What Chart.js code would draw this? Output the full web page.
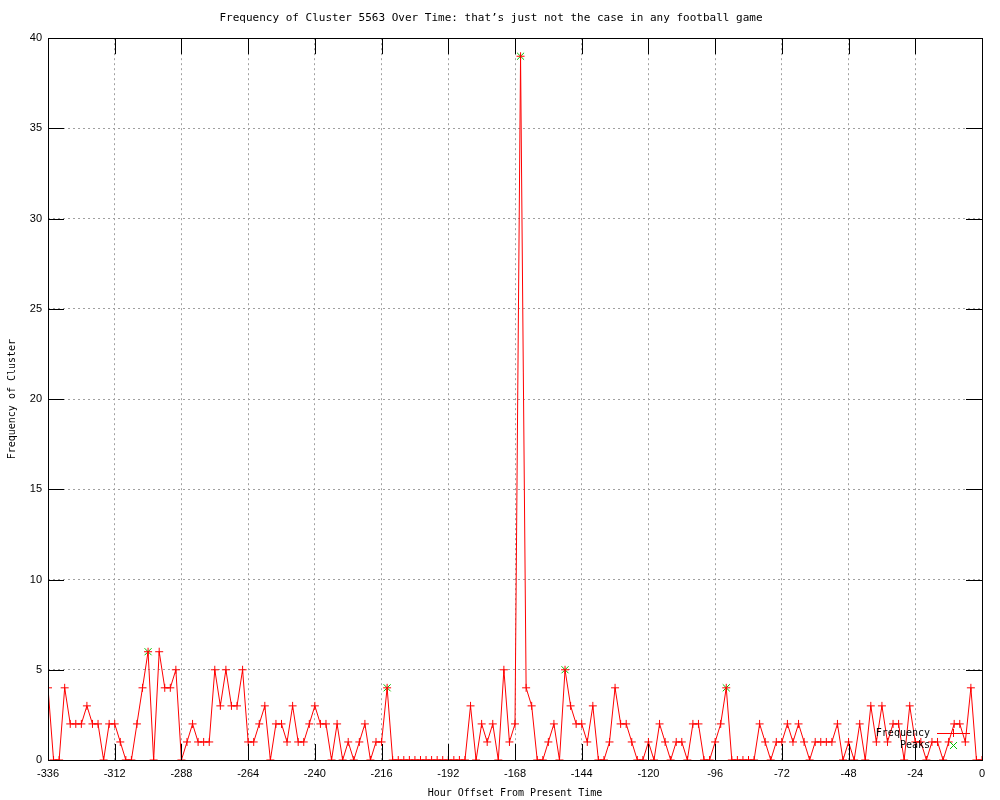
<!DOCTYPE html>
<html>

<head>
  <meta charset="utf-8">
  <title>Frequency of Cluster 5563</title>
  <style>
    body {
      margin: 0;
      background: #fff;
    }
  </style>
</head>

<body>
  <canvas id="chart" width="1000" height="800"></canvas>

  <script src="https://cdn.jsdelivr.net/npm/chart.js"></script>

  <script>
    // hours before now, one sample every 2 hours
    const hours = Array.from({ length: 169 }, (_, i) => -336 + i * 2);

    const frequency = [
      4, 0, 0, 4, 2, 2, 2, 3, 2, 2,
      0, 2, 2, 1, 0, 0, 2, 4, 6, 0,
      6, 4, 4, 5, 0, 1, 2, 1, 1, 1,
      5, 3, 5, 3, 3, 5, 1, 1, 2, 3,
      0, 2, 2, 1, 3, 1, 1, 2, 3, 2,
      2, 0, 2, 0, 1, 0, 1, 2, 0, 1,
      1, 4, 0, 0, 0, 0, 0, 0, 0, 0,
      0, 0, 0, 0, 0, 0, 3, 0, 2, 1,
      2, 0, 5, 1, 2, 39, 4, 3, 0, 0,
      1, 2, 0, 5, 3, 2, 2, 1, 3, 0,
      0, 1, 4, 2, 2, 1, 0, 0, 1, 0,
      2, 1, 0, 1, 1, 0, 2, 2, 0, 0,
      1, 2, 4, 0, 0, 0, 0, 0, 2, 1,
      0, 1, 1, 2, 1, 2, 1, 0, 1, 1,
      1, 1, 2, 0, 1, 0, 2, 0, 3, 1,
      3, 1, 2, 2, 0, 3, 1, 1, 0, 1,
      1, 0, 1, 2, 2, 1, 4, 0, 0
    ];

    const peakHours = [-300, -214, -166, -150, -92];
    const peakValues = [6, 4, 39, 5, 4];

    const xTicks = [-336, -312, -288, -264, -240, -216, -192, -168, -144, -120, -96, -72, -48, -24, 0];
    const yTicks = [0, 5, 10, 15, 20, 25, 30, 35, 40];

    const RED = '#ff0000';
    const GREEN = '#00c000';
    const MONO = '"DejaVu Sans Mono", monospace';

    // gnuplot style: inward tick marks on all four sides + full frame
    const frameTicks = {
      id: 'frameTicks',
      afterDatasetsDraw(chart) {
        const { ctx, chartArea: a, scales: { x, y } } = chart;
        ctx.save();
        ctx.strokeStyle = '#000';
        ctx.lineWidth = 1;
        ctx.beginPath();
        xTicks.forEach(v => {
          const px = Math.round(x.getPixelForValue(v)) + 0.5;
          ctx.moveTo(px, a.bottom); ctx.lineTo(px, a.bottom - 16);
          ctx.moveTo(px, a.top); ctx.lineTo(px, a.top + 16);
        });
        yTicks.forEach(v => {
          const py = Math.round(y.getPixelForValue(v)) + 0.5;
          ctx.moveTo(a.left, py); ctx.lineTo(a.left + 16, py);
          ctx.moveTo(a.right, py); ctx.lineTo(a.right - 16, py);
        });
        ctx.stroke();
        ctx.strokeRect(Math.round(a.left) + 0.5, Math.round(a.top) + 0.5,
          Math.round(a.right - a.left), Math.round(a.bottom - a.top));

        // key, bottom right inside the plot
        const kx = a.right - 52, ky = a.bottom - 27;
        ctx.font = '10px ' + MONO;
        ctx.fillStyle = '#000';
        ctx.textAlign = 'right';
        ctx.textBaseline = 'middle';
        ctx.fillText('Frequency', kx, ky);
        ctx.fillText('Peaks', kx, ky + 12);
        ctx.strokeStyle = RED;
        ctx.beginPath();
        ctx.moveTo(kx + 7, ky + 0.5); ctx.lineTo(kx + 40, ky + 0.5);
        ctx.moveTo(kx + 23.5, ky - 4); ctx.lineTo(kx + 23.5, ky + 4);
        ctx.stroke();
        ctx.strokeStyle = GREEN;
        ctx.beginPath();
        ctx.moveTo(kx + 20, ky + 9); ctx.lineTo(kx + 27, ky + 16);
        ctx.moveTo(kx + 27, ky + 9); ctx.lineTo(kx + 20, ky + 16);
        ctx.stroke();
        ctx.restore();
      }
    };

    new Chart(document.getElementById('chart'), {
      type: 'line',
      data: {
        datasets: [{
          label: 'Frequency',
          data: hours.map((h, i) => ({ x: h, y: frequency[i] })),
          borderColor: RED,
          backgroundColor: RED,
          borderWidth: 1,
          pointStyle: 'cross',
          pointRadius: 4,
          pointBorderWidth: 1,
          pointBorderColor: RED,
          tension: 0
        }, {
          label: 'Peaks',
          data: peakHours.map((h, i) => ({ x: h, y: peakValues[i] })),
          showLine: false,
          pointStyle: 'crossRot',
          pointRadius: 5,
          pointBorderWidth: 1,
          pointBorderColor: GREEN,
          borderColor: GREEN
        }]
      },
      options: {
        responsive: false,
        animation: false,
        layout: { padding: { top: 0, right: 18, bottom: 0, left: 0 } },
        plugins: {
          legend: { display: false },
          tooltip: { enabled: false },
          title: {
            display: true,
            text: 'Frequency of Cluster 5563 Over Time: that\u2019s just not the case in any football game',
            color: '#000',
            font: { family: MONO, size: 11, weight: 'normal' },
            padding: { top: 12, bottom: 13 }
          }
        },
        scales: {
          x: {
            type: 'linear',
            min: -336,
            max: 0,
            afterFit: s => { s.height = 40; },
            afterBuildTicks: s => { s.ticks = xTicks.map(v => ({ value: v })); },
            ticks: {
              color: '#000',
              padding: 7,
              maxRotation: 0,
              autoSkip: false,
              font: { family: '"Liberation Sans", sans-serif', size: 11 }
            },
            grid: { color: '#a0a0a0', drawTicks: false, lineWidth: 1 },
            border: { display: false, dash: [2, 3] },
            title: {
              display: true,
              text: 'Hour Offset From Present Time',
              color: '#000',
              font: { family: MONO, size: 10 },
              padding: { top: 0, bottom: 1 }
            }
          },
          y: {
            min: 0,
            max: 40,
            afterFit: s => { s.width = 48; },
            afterBuildTicks: s => { s.ticks = yTicks.map(v => ({ value: v })); },
            ticks: {
              color: '#000',
              padding: 6,
              font: { family: '"Liberation Sans", sans-serif', size: 11 }
            },
            grid: { color: '#a0a0a0', drawTicks: false, lineWidth: 1 },
            border: { display: false, dash: [2, 3] },
            title: {
              display: true,
              text: 'Frequency of Cluster',
              color: '#000',
              font: { family: MONO, size: 10 },
              padding: { top: 6, bottom: 0 }
            }
          }
        }
      },
      plugins: [frameTicks]
    });
  </script>
</body>

</html>
